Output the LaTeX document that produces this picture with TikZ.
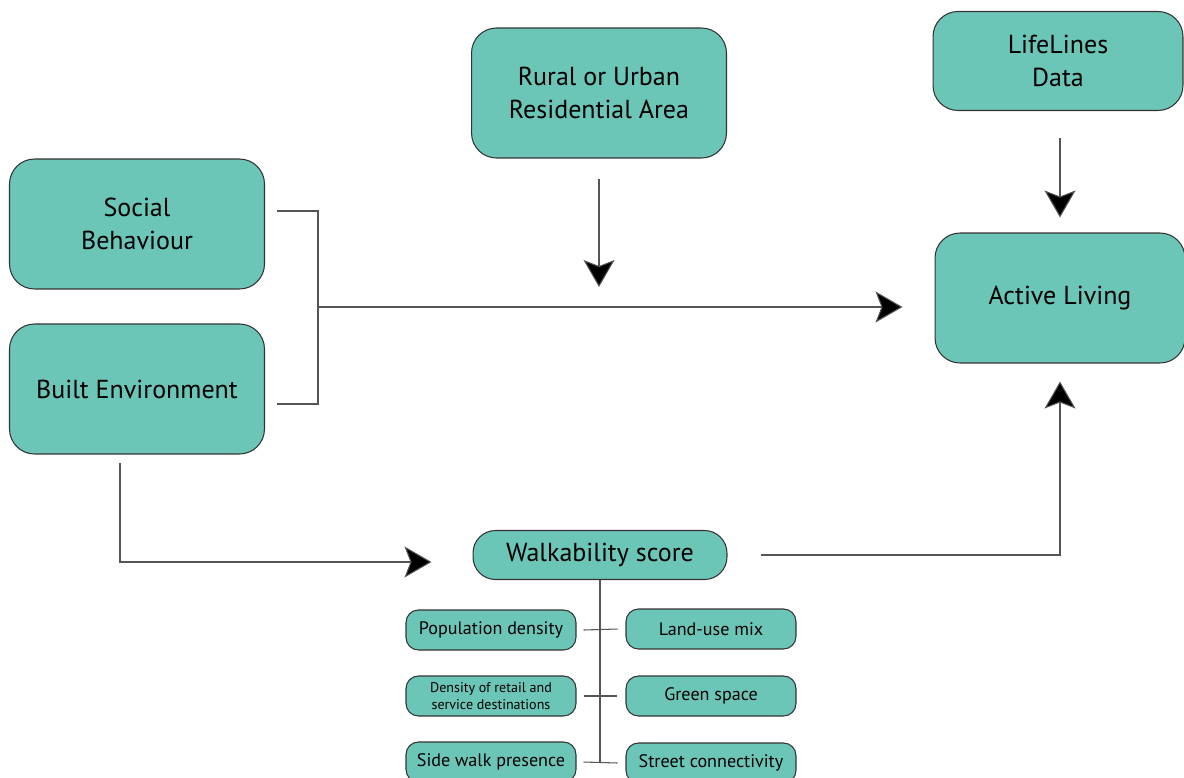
\documentclass[tikz,border=0pt]{standalone}
\usepackage{fontspec}
\setmainfont{PT Sans}
\usetikzlibrary{arrows.meta}
\definecolor{boxfill}{HTML}{6CC6B7}
\definecolor{wirecol}{HTML}{555555}
\begin{document}
\begin{tikzpicture}[x=0.02cm, y=-0.02cm,
    big/.style={draw=black!80, line width=0.6pt, fill=boxfill, rounded corners=0.5cm,
      minimum width=5.1cm, minimum height=2.6cm, align=center, font=\fontsize{14.8}{18.5}\selectfont},
    small/.style={draw=black!80, line width=0.6pt, fill=boxfill, rounded corners=0.25cm,
      minimum width=3.4cm, minimum height=0.8cm, align=center, font=\fontsize{10.3}{12}\selectfont},
    wire/.style={draw=wirecol, line width=0.6pt},
    arr/.style={wire, -{Stealth[length=0.54cm, width=0.62cm, inset=0.12cm, fill=black]}}]
  \useasboundingbox (0,0) rectangle (1184,778);

  % top row and left column
  \node[big] (soc) at (137,224) {Social\\Behaviour};
  \node[big] (built) at (137,389) {Built Environment};
  \node[big] (rur) at (599,93) {Rural or Urban\\Residential Area};
  \node[big, minimum width=5.0cm, minimum height=1.98cm] (life) at (1058,61) {LifeLines\\Data};
  \node[big, minimum width=5.0cm] (act) at (1060,298) {Active Living};

  % walkability and its parts
  \node[big, minimum width=5.08cm, minimum height=0.98cm, rounded corners=0.45cm] (walk) at (600,555) {Walkability score};
  \node[small] (p1) at (491,630) {Population density};
  \node[small, font=\fontsize{8}{10}\selectfont] (p2) at (491,696) {Density of retail and\\service destinations};
  \node[small] (p3) at (491,762) {Side walk presence};
  \node[small] (q1) at (711,629) {Land-use mix};
  \node[small] (q2) at (711,696) {Green space};
  \node[small] (q3) at (711,763) {Street connectivity};

  \coordinate (j) at (318,307);

  \draw[wire] ([shift={(12,-13)}]soc.east) -| (j) |- ([shift={(12,15)}]built.east);
  \draw[arr, shorten >=0.64cm] (j) -- (j -| act.west);
  \draw[arr, shorten <=0.4cm, shorten >=0.4cm] (rur.south) -- (rur.south |- j);
  \draw[arr, shorten <=0.54cm, shorten >=0.3cm] (life.south -| act.north) -- (act.north);
  \draw[arr, shorten >=0.82cm] ([shift={(-17,8)}]built.south) |- ([yshift=-0.14cm]walk.west);
  \draw[arr, shorten <=0.66cm, shorten >=0.36cm] (walk.east) -| (act.south);

  \draw[wire] (walk.south) -- (walk.south |- q3);
  \foreach \a/\b in {p1/q1, p2/q2, p3/q3}
    \draw[wire] ([xshift=0.14cm]\a.east) -- ([xshift=-0.16cm]\b.west);
\end{tikzpicture}
\end{document}
